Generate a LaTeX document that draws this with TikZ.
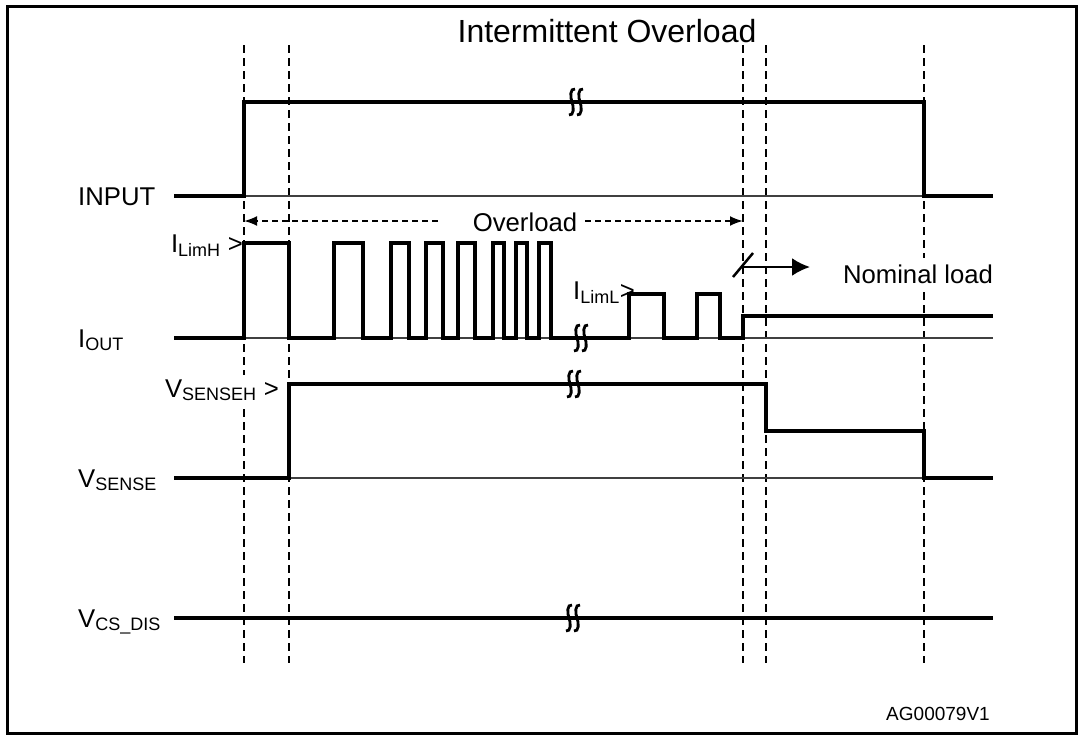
\documentclass[tikz,border=0pt]{standalone}
\usepackage{fontspec}
\setmainfont{Liberation Sans}
\usetikzlibrary{arrows.meta}
\tikzstyle{wave} = [line width=4.4pt]
\tikzstyle{refline} = [line width=1.3pt, black!75]
\tikzstyle{guide} = [line width=1.8pt, dash pattern=on 8pt off 5pt]
\tikzstyle{lbl} = [inner sep=0pt, font=\fontsize{25.7}{30}\selectfont]
\tikzstyle{line} = [line width=2pt, -{Latex[length=13pt,width=10pt]}]
\tikzset{brk/.pic={
  \draw[line width=2.8pt] (-1,-13) .. controls (-6,-14) and (-6,-5) .. (-4,0) .. controls (-2,5) and (-2,14) .. (-7,13);
  \draw[line width=2.8pt] (7,-13) .. controls (2,-14) and (2,-5) .. (4,0) .. controls (6,5) and (6,14) .. (1,13);
}}

\begin{document}
\begin{tikzpicture}[x=1pt, y=-1pt]
\useasboundingbox (0,0) rectangle (1082,736);
\draw[line width=3pt] (7,6) rectangle (1076,733);

% time markers
\foreach \t in {244,289,743,766,924}
  \draw[guide] (\t,45) -- (\t,663);

% labels
\node (title) [lbl, font=\fontsize{32}{36}\selectfont, anchor=base] at (607,42) {Intermittent Overload};
\node (input) [lbl, anchor=base west] at (78,205) {INPUT};
\node (iout) [lbl, anchor=base west] at (78,347) {I\textsubscript{OUT}};
\node (vsense) [lbl, anchor=base west] at (78,487) {V\textsubscript{SENSE}};
\node (vcsdis) [lbl, anchor=base west] at (78,627) {V\textsubscript{CS\_DIS}};
\node (limh) [lbl, anchor=base east] at (243,252) {I\textsubscript{LimH} >};
\node (liml) [lbl, anchor=base west] at (573,299) {I\textsubscript{LimL}>};
\node (senseh) [lbl, anchor=base east, fill=white, inner sep=4pt] at (283,397) {V\textsubscript{SENSEH} >};
\node (ovl) [lbl, anchor=base, fill=white] at (525,231) {Overload};
\node (nom) [lbl, anchor=base, fill=white, inner sep=6pt] at (918,283) {Nominal load};
\node (code) [lbl, font=\fontsize{19}{22}\selectfont, anchor=base] at (938,720) {AG00079V1};

% reference levels
\draw[refline] (244,196) -- (993,196);
\draw[refline] (244,338) -- (993,338);
\draw[refline] (289,478) -- (993,478);

% waveforms
\draw[wave] (174,196) -- (244,196) -- (244,102) -- (924,102) -- (924,196) -- (993,196);
\draw[wave] (174,338) foreach \a/\b in {244/289,334/363,391/409,426/443,458/475,493/504,516/527,539/551} { -- (\a,338) -- (\a,243) -- (\b,243) -- (\b,338) }
  -- (629,338) -- (629,294) -- (664,294) -- (664,338) -- (697,338) -- (697,294) -- (720,294) -- (720,338) -- (743,338) -- (743,316) -- (993,316);
\draw[wave] (174,478) -- (289,478) -- (289,384) -- (766,384) -- (766,431) -- (924,431) -- (924,478) -- (993,478);
\draw[wave] (174,618) -- (993,618);

% breaks
\pic at (576,102) {brk};
\pic at (581,338) {brk};
\pic at (574,384) {brk};
\pic at (573,618) {brk};

% overload span
\coordinate (ovlL) at (438,221);
\coordinate (ovlA) at (244,221);
\coordinate (ovlR) at (585,221);
\coordinate (ovlB) at (743,221);
\draw [line, dash pattern=on 6pt off 4pt] (ovlL) -- (ovlA);
\draw [line, dash pattern=on 6pt off 4pt] (ovlR) -- (ovlB);

% nominal load
\coordinate (slashA) at (733,277);
\coordinate (slashB) at (753,253);
\coordinate (nomA) at (743,267);
\coordinate (nomB) at (810,267);
\draw [line width=2.5pt] (slashA) -- (slashB);
\draw [line, line width=2.5pt, -{Latex[length=18pt,width=18pt]}] (nomA) -- (nomB);
\end{tikzpicture}
\end{document}
